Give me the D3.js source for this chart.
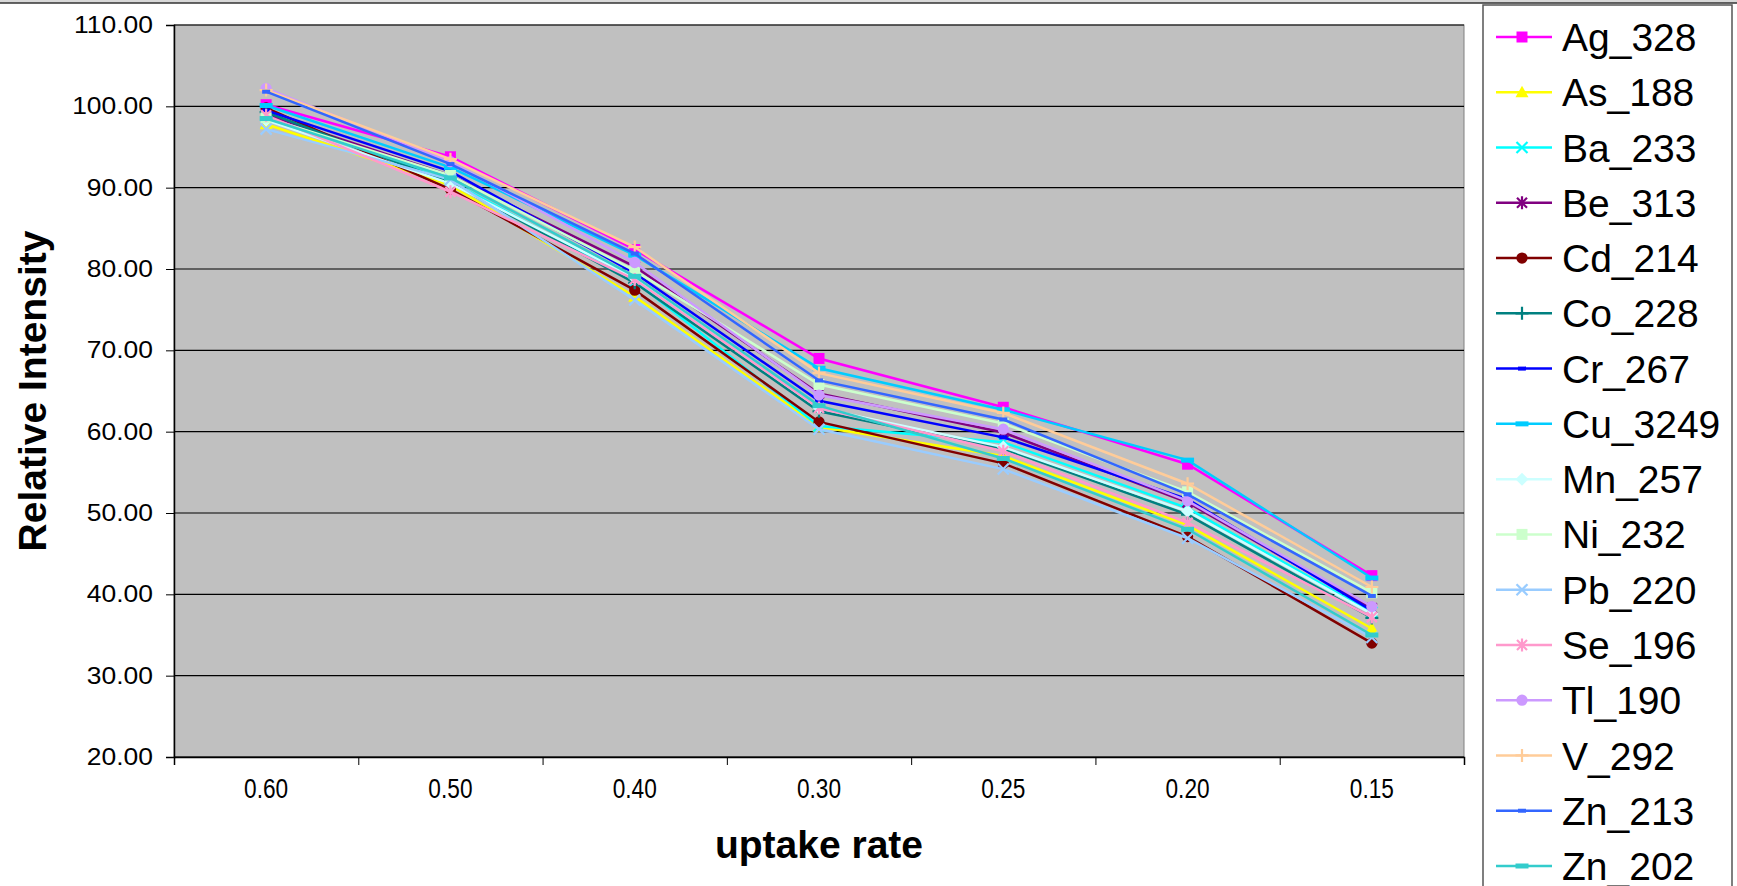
<!DOCTYPE html>
<html>
<head>
<meta charset="utf-8">
<script src="https://cdn.jsdelivr.net/npm/d3@7"></script>
<style>
  body { margin: 0; background: #fff; }
  svg { display: block; }
</style>
</head>
<body>
<svg class="chart"></svg>
<script>
var categories = ["0.60", "0.50", "0.40", "0.30", "0.25", "0.20", "0.15"];
var yTicks = [20, 30, 40, 50, 60, 70, 80, 90, 100, 110];

var seriesNames = ["Ag_328", "As_188", "Ba_233", "Be_313", "Cd_214", "Co_228", "Cr_267", "Cu_3249",
  "Mn_257", "Ni_232", "Pb_220", "Se_196", "Tl_190", "V_292", "Zn_213", "Zn_202"];

var Ag_328  = [100.2, 93.8, 82.4, 69.0, 63.0, 56.0, 42.3];
var As_188  = [97.8, 90.3, 76.6, 60.6, 57.0, 48.5, 35.8];
var Ba_233  = [98.8, 90.8, 78.5, 60.7, 58.7, 50.6, 37.8];
var Be_313  = [99.0, 91.5, 80.3, 64.7, 59.9, 51.3, 38.3];
var Cd_214  = [99.8, 89.8, 77.4, 61.2, 56.1, 47.1, 34.0];
var Co_228  = [99.3, 90.6, 78.3, 62.5, 57.9, 49.8, 37.1];
var Cr_267  = [99.5, 92.0, 79.5, 63.8, 59.3, 51.7, 38.0];
var Cu_3249 = [100.1, 92.5, 81.7, 67.8, 62.7, 56.5, 42.0];
var Mn_257  = [98.3, 90.5, 78.9, 62.9, 58.1, 50.2, 37.6];
var Ni_232  = [98.6, 91.5, 79.8, 65.8, 61.0, 52.6, 40.2];
var Pb_220  = [97.2, 91.0, 76.2, 60.3, 55.4, 46.9, 34.7];
var Se_196  = [98.9, 89.5, 78.7, 62.9, 57.6, 48.8, 37.2];
var Tl_190  = [102.2, 93.2, 80.8, 64.5, 60.3, 51.5, 38.5];
var V_292   = [102.0, 93.5, 82.7, 67.2, 62.3, 53.6, 40.9];
var Zn_213  = [101.8, 92.9, 81.9, 66.3, 61.5, 52.3, 39.8];
var Zn_202  = [98.5, 91.2, 79.1, 63.2, 56.7, 48.0, 35.0];

var seriesValues = [Ag_328, As_188, Ba_233, Be_313, Cd_214, Co_228, Cr_267, Cu_3249,
  Mn_257, Ni_232, Pb_220, Se_196, Tl_190, V_292, Zn_213, Zn_202];

var colors = ["#FF00FF", "#FFFF00", "#00FFFF", "#800080", "#800000", "#008080", "#0000FF", "#00CCFF",
  "#CCFFFF", "#CCFFCC", "#99CCFF", "#FF99CC", "#CC99FF", "#FFCC99", "#3366FF", "#33CCCC"];
var markers = ["square", "triangle", "x", "star", "circle", "plus", "dash", "longdash",
  "diamond", "square", "x", "star", "circle", "plus", "dash", "longdash"];

var width = 1737, height = 886;
var plotLeft = 174, plotRight = 1464, plotTop = 25, plotBottom = 757;

var chart = d3.select(".chart").attr("width", width).attr("height", height);

// window-ish top line
chart.append("rect").attr("x", 0).attr("y", 0).attr("width", width).attr("height", 3).attr("fill", "#d8d8d8");
chart.append("line").attr("x1", 0).attr("x2", width).attr("y1", 3).attr("y2", 3)
  .attr("stroke", "#333").attr("stroke-width", 1.5);

var x = d3.scaleBand().domain(categories).range([plotLeft, plotRight]);
var xEdge = d3.scaleLinear().domain([0, categories.length]).range([plotLeft, plotRight]);
var y = d3.scaleLinear().domain([20, 110]).range([plotBottom, plotTop]);

/* plot area */
chart.append("rect")
  .attr("x", plotLeft).attr("y", plotTop)
  .attr("width", plotRight - plotLeft).attr("height", plotBottom - plotTop)
  .attr("fill", "#C0C0C0").attr("stroke", "#808080").attr("stroke-width", 1);

chart.append("g").selectAll("line")
  .data(yTicks)
  .enter().append("line")
  .attr("x1", plotLeft).attr("x2", plotRight)
  .attr("y1", function (d) { return y(d); })
  .attr("y2", function (d) { return y(d); })
  .attr("stroke", "#000").attr("stroke-width", 1.2);

/* axes */
var yAxis = d3.axisLeft(y).tickValues(yTicks).tickSize(8).tickPadding(19)
  .tickFormat(function (d) { return d3.format(".2f")(d); });
var gy = chart.append("g").attr("transform", "translate(" + plotLeft + ",0)").call(yAxis);
gy.select(".domain").attr("stroke", "#000").attr("stroke-width", 1.5);
gy.selectAll(".tick line").attr("stroke", "#000");
gy.selectAll(".tick text")
  .attr("font-family", "'Liberation Sans', Arial, sans-serif")
  .attr("font-size", 23)
  .attr("fill", "#000")
  .attr("x", -21 / 1.15)
  .attr("transform", "scale(1.15,1)");

var gxTicks = chart.append("g").attr("transform", "translate(0," + plotBottom + ")")
  .call(d3.axisBottom(xEdge).ticks(categories.length).tickSize(8).tickFormat(""));
gxTicks.select(".domain").attr("stroke", "#000").attr("stroke-width", 1.5);
gxTicks.selectAll(".tick line").attr("stroke", "#000");

var gx = chart.append("g").attr("transform", "translate(0," + plotBottom + ")")
  .call(d3.axisBottom(x).tickSize(0).tickPadding(22));
gx.select(".domain").remove();
gx.selectAll(".tick text")
  .attr("font-family", "'Liberation Sans', Arial, sans-serif")
  .attr("font-size", 27)
  .attr("fill", "#000")
  .attr("transform", "scale(0.84,1)")
  .attr("x", 0);

/* titles */
chart.append("text")
  .attr("x", (plotLeft + plotRight) / 2).attr("y", 858)
  .attr("text-anchor", "middle")
  .attr("font-family", "'Liberation Sans', Arial, sans-serif")
  .attr("font-weight", "bold").attr("font-size", 39)
  .text("uptake rate");

chart.append("text")
  .attr("transform", "translate(46," + ((plotTop + plotBottom) / 2) + ") rotate(-90)")
  .attr("text-anchor", "middle")
  .attr("font-family", "'Liberation Sans', Arial, sans-serif")
  .attr("font-weight", "bold").attr("font-size", 39)
  .text("Relative Intensity");

/* markers */
function markerPath(type) {
  switch (type) {
    case "square": return "M-5.5,-5.5H5.5V5.5H-5.5Z";
    case "triangle": return "M0,-6.5L6.5,5H-6.5Z";
    case "x": return "M-5.5,-5.5L5.5,5.5M5.5,-5.5L-5.5,5.5";
    case "star": return "M-5,-5L5,5M5,-5L-5,5M0,-6.5V6.5";
    case "circle": return d3.symbol().type(d3.symbolCircle).size(100)();
    case "plus": return "M-6.5,0H6.5M0,-6.5V6.5";
    case "dash": return "M-4,-2H4V2H-4Z";
    case "longdash": return "M-6.5,-2.5H6.5V2.5H-6.5Z";
    case "diamond": return "M0,-6.5L6.5,0L0,6.5L-6.5,0Z";
  }
}
function isStroked(type) { return type === "x" || type === "star" || type === "plus"; }

function drawMarker(sel, type, color) {
  sel.attr("d", markerPath(type));
  if (isStroked(type)) {
    sel.attr("fill", "none").attr("stroke", color).attr("stroke-width", 2.2);
  } else {
    sel.attr("fill", color).attr("stroke", "none");
  }
}

var line = d3.line()
  .x(function (d, i) { return x(categories[i]) + x.bandwidth() / 2; })
  .y(function (d) { return y(d); });

seriesValues.forEach(function (vals, s) {
  var g = chart.append("g");
  g.append("path")
    .datum(vals)
    .attr("d", line)
    .attr("fill", "none")
    .attr("stroke", colors[s])
    .attr("stroke-width", 2.5);
  g.selectAll("path.mk")
    .data(vals)
    .enter().append("path")
    .attr("class", "mk")
    .attr("transform", function (d, i) {
      return "translate(" + (x(categories[i]) + x.bandwidth() / 2) + "," + y(d) + ")";
    })
    .each(function () { drawMarker(d3.select(this), markers[s], colors[s]); });
});

/* legend */
chart.append("rect")
  .attr("x", 1483).attr("y", 5).attr("width", 249).attr("height", 900)
  .attr("fill", "#fff").attr("stroke", "#555").attr("stroke-width", 1.5);

var legendY = d3.scaleLinear().domain([0, seriesNames.length - 1]).range([37, 866]);
var legend = chart.selectAll("g.legend")
  .data(seriesNames)
  .enter().append("g")
  .attr("class", "legend")
  .attr("transform", function (d, i) { return "translate(0," + legendY(i) + ")"; });

legend.append("line")
  .attr("x1", 1496).attr("x2", 1552)
  .attr("stroke", function (d, i) { return colors[i]; })
  .attr("stroke-width", 2.5);
legend.append("path")
  .attr("transform", "translate(1522,0)")
  .each(function (d, i) { drawMarker(d3.select(this), markers[i], colors[i]); });
legend.append("text")
  .attr("x", 1562).attr("dy", "0.36em")
  .attr("font-family", "'Liberation Sans', Arial, sans-serif")
  .attr("font-size", 39)
  .attr("fill", "#000")
  .text(function (d) { return d; });
</script>
</body>
</html>
